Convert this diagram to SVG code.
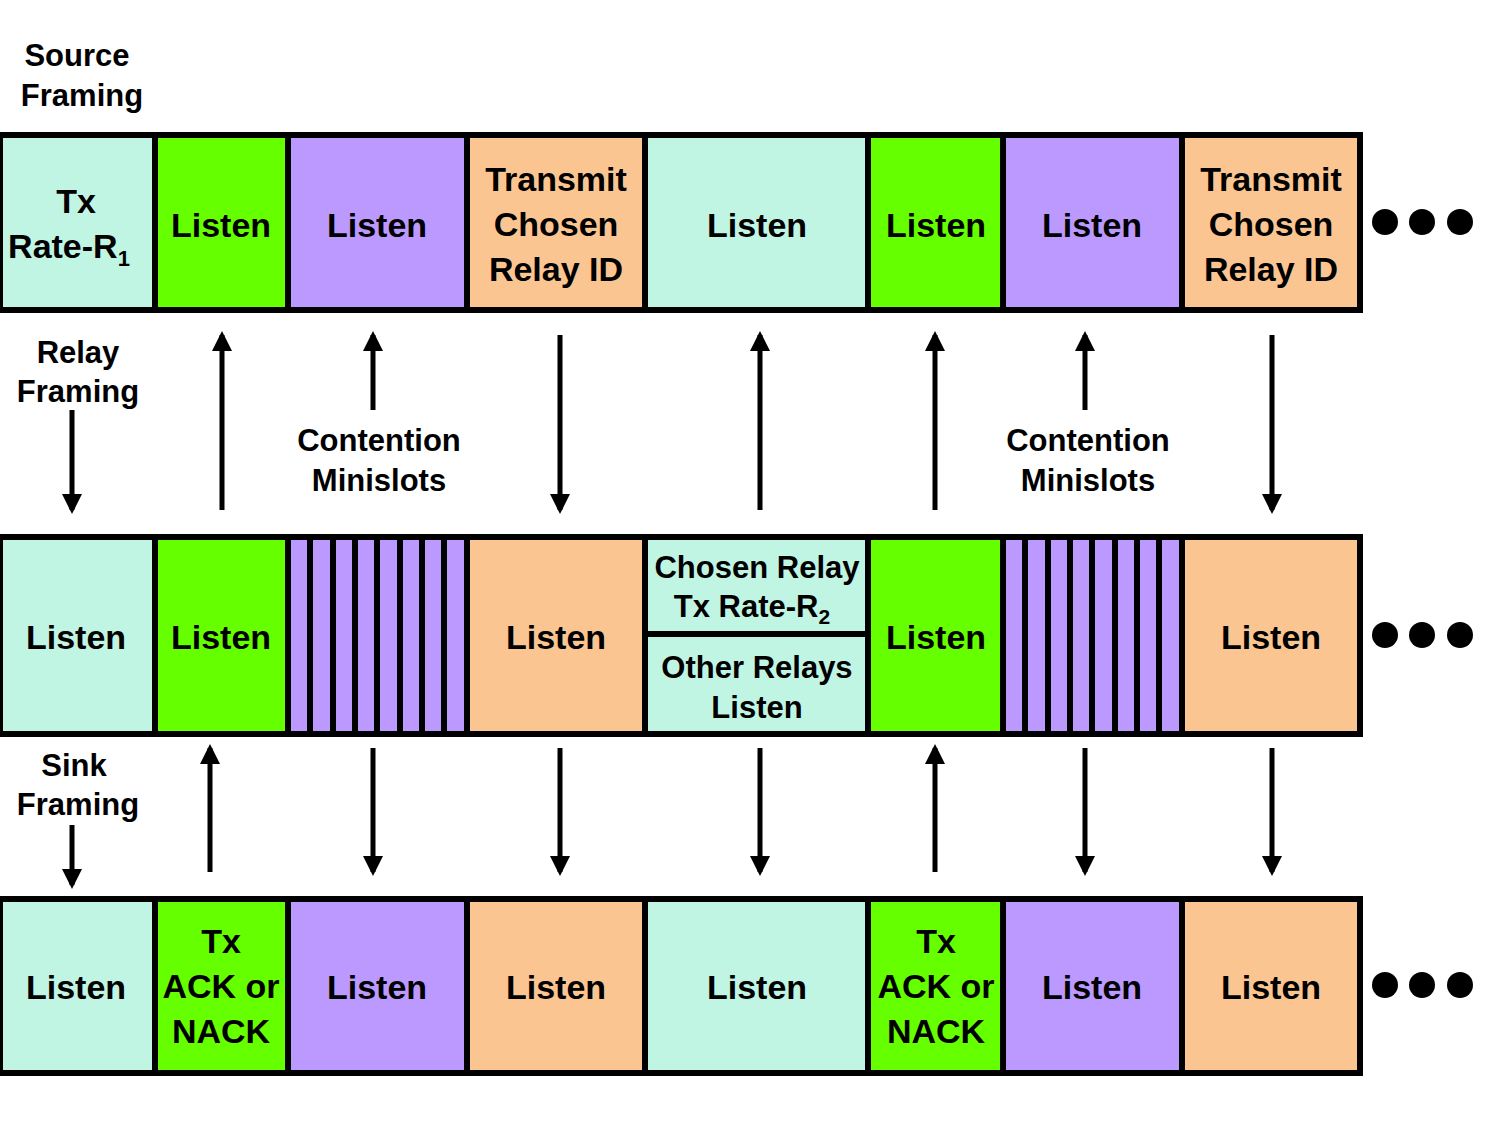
<svg xmlns="http://www.w3.org/2000/svg" width="1496" height="1121" viewBox="0 0 1496 1121">
<style>
.c{stroke:#000;stroke-width:6}
.m{fill:#c0f5e4}.g{fill:#66ff00}.p{fill:#bb99ff}.o{fill:#fbc592}
text{font-family:"Liberation Sans",Arial,sans-serif;font-weight:bold;font-size:34px;text-anchor:middle;fill:#000}
.s{font-size:31px}
.a{stroke:#000;stroke-width:5;fill:none}
</style>
<defs>
<marker id="h" viewBox="0 0 10 10" refX="8" refY="5" markerWidth="4" markerHeight="4" orient="auto" markerUnits="strokeWidth"><path d="M0,0L10,5L0,10z" fill="#000"/></marker>
</defs>
<rect width="1496" height="1121" fill="#fff"/>
<text class="s" x="77" y="66">Source</text><text class="s" x="82" y="106">Framing</text>
<text class="s" x="78" y="363">Relay</text><text class="s" x="78" y="402">Framing</text>
<text class="s" x="74" y="776">Sink</text><text class="s" x="78" y="815">Framing</text>
<g id="source">
<rect class="c m" x="0" y="135" width="155" height="175"/>
<rect class="c g" x="155" y="135" width="133" height="175"/>
<rect class="c p" x="288" y="135" width="179" height="175"/>
<rect class="c o" x="467" y="135" width="178" height="175"/>
<rect class="c m" x="645" y="135" width="223" height="175"/>
<rect class="c g" x="868" y="135" width="135" height="175"/>
<rect class="c p" x="1003" y="135" width="179" height="175"/>
<rect class="c o" x="1182" y="135" width="178" height="175"/>
<text x="76" y="213">Tx</text><text x="69" y="258">Rate-R<tspan font-size="22" dy="8">1</tspan></text>
<text x="221" y="237">Listen</text><text x="377" y="237">Listen</text>
<text x="556" y="191">Transmit</text><text x="556" y="236">Chosen</text><text x="556" y="281">Relay ID</text>
<text x="757" y="237">Listen</text><text x="936" y="237">Listen</text><text x="1092" y="237">Listen</text>
<text x="1271" y="191">Transmit</text><text x="1271" y="236">Chosen</text><text x="1271" y="281">Relay ID</text>
</g>
<g id="relay">
<rect class="c m" x="0" y="537" width="155" height="197"/>
<rect class="c g" x="155" y="537" width="133" height="197"/>
<rect class="c p" x="288" y="537" width="179" height="197"/>
<rect class="c o" x="467" y="537" width="178" height="197"/>
<rect class="c m" x="645" y="537" width="223" height="197"/>
<line class="c" x1="645" y1="634" x2="868" y2="634"/>
<rect class="c g" x="868" y="537" width="135" height="197"/>
<rect class="c p" x="1003" y="537" width="179" height="197"/>
<rect class="c o" x="1182" y="537" width="178" height="197"/>
<path class="c" d="M310,537V734M333,537V734M355,537V734M377,537V734M400,537V734M422,537V734M444,537V734M1025,537V734M1048,537V734M1070,537V734M1092,537V734M1115,537V734M1137,537V734M1159,537V734"/>
<text x="76" y="649">Listen</text><text x="221" y="649">Listen</text><text x="556" y="649">Listen</text>
<text class="s" x="757" y="578">Chosen Relay</text><text class="s" x="752" y="617">Tx Rate-R<tspan font-size="21" dy="7">2</tspan></text>
<text class="s" x="757" y="678">Other Relays</text><text class="s" x="757" y="718">Listen</text>
<text x="936" y="649">Listen</text><text x="1271" y="649">Listen</text>
</g>
<g id="sink">
<rect class="c m" x="0" y="899" width="155" height="174"/>
<rect class="c g" x="155" y="899" width="133" height="174"/>
<rect class="c p" x="288" y="899" width="179" height="174"/>
<rect class="c o" x="467" y="899" width="178" height="174"/>
<rect class="c m" x="645" y="899" width="223" height="174"/>
<rect class="c g" x="868" y="899" width="135" height="174"/>
<rect class="c p" x="1003" y="899" width="179" height="174"/>
<rect class="c o" x="1182" y="899" width="178" height="174"/>
<text x="76" y="999">Listen</text>
<text x="221" y="953">Tx</text><text x="221" y="998">ACK or</text><text x="221" y="1043">NACK</text>
<text x="377" y="999">Listen</text><text x="556" y="999">Listen</text><text x="757" y="999">Listen</text>
<text x="936" y="953">Tx</text><text x="936" y="998">ACK or</text><text x="936" y="1043">NACK</text>
<text x="1092" y="999">Listen</text><text x="1271" y="999">Listen</text>
</g>
<g id="dots" fill="#000">
<circle cx="1385" cy="222" r="13"/><circle cx="1422" cy="222" r="13"/><circle cx="1460" cy="222" r="13"/>
<circle cx="1385" cy="635" r="13"/><circle cx="1422" cy="635" r="13"/><circle cx="1460" cy="635" r="13"/>
<circle cx="1385" cy="985" r="13"/><circle cx="1422" cy="985" r="13"/><circle cx="1460" cy="985" r="13"/>
</g>
<text class="s" x="379" y="451">Contention</text><text class="s" x="379" y="491">Minislots</text>
<text class="s" x="1088" y="451">Contention</text><text class="s" x="1088" y="491">Minislots</text>
<g id="connectors" class="a" marker-end="url(#h)">
<line class="a" x1="72" y1="410" x2="72" y2="510" marker-end="url(#h)"/>
<line class="a" x1="222" y1="510" x2="222" y2="335" marker-end="url(#h)"/>
<line class="a" x1="373" y1="410" x2="373" y2="335" marker-end="url(#h)"/>
<line class="a" x1="560" y1="335" x2="560" y2="510" marker-end="url(#h)"/>
<line class="a" x1="760" y1="510" x2="760" y2="335" marker-end="url(#h)"/>
<line class="a" x1="935" y1="510" x2="935" y2="335" marker-end="url(#h)"/>
<line class="a" x1="1085" y1="410" x2="1085" y2="335" marker-end="url(#h)"/>
<line class="a" x1="1272" y1="335" x2="1272" y2="510" marker-end="url(#h)"/>
<line class="a" x1="72" y1="825" x2="72" y2="885" marker-end="url(#h)"/>
<line class="a" x1="210" y1="872" x2="210" y2="748" marker-end="url(#h)"/>
<line class="a" x1="373" y1="748" x2="373" y2="872" marker-end="url(#h)"/>
<line class="a" x1="560" y1="748" x2="560" y2="872" marker-end="url(#h)"/>
<line class="a" x1="760" y1="748" x2="760" y2="872" marker-end="url(#h)"/>
<line class="a" x1="935" y1="872" x2="935" y2="748" marker-end="url(#h)"/>
<line class="a" x1="1085" y1="748" x2="1085" y2="872" marker-end="url(#h)"/>
<line class="a" x1="1272" y1="748" x2="1272" y2="872" marker-end="url(#h)"/>
</g>
</svg>
